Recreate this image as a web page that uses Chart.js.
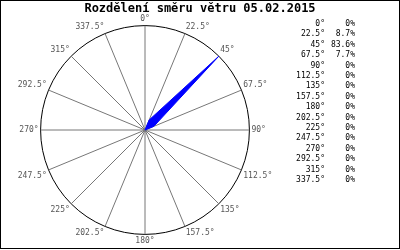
<!DOCTYPE html>
<html>
<head>
<meta charset="utf-8">
<script src="https://cdn.jsdelivr.net/npm/chart.js@4/dist/chart.umd.min.js"></script>
<style>
  body { margin: 0; background: #fff; }
</style>
</head>
<body>
<canvas id="roseChart" width="400" height="250"></canvas>
<script>
// wind directions and share of time (%)
const directions = ['0°', '22.5°', '45°', '67.5°', '90°', '112.5°', '135°', '157.5°',
                    '180°', '202.5°', '225°', '247.5°', '270°', '292.5°', '315°', '337.5°'];
const shares = [0, 8.7, 83.6, 7.7, 0, 0, 0, 0, 0, 0, 0, 0, 0, 0, 0, 0];
const chartTitle = 'Rozdělení směru větru 05.02.2015';

const MONO = '"DejaVu Sans Mono", monospace';

// title, side table and frame drawn straight on the canvas
const decorPlugin = {
    id: 'decor',
    afterDraw(chart) {
        const ctx = chart.ctx;
        ctx.save();
        ctx.fillStyle = '#000';
        ctx.font = 'bold 12px ' + MONO;
        ctx.textAlign = 'center';
        ctx.textBaseline = 'middle';
        ctx.fillText(chartTitle, 200, 9);

        ctx.font = '8px ' + MONO;
        ctx.textAlign = 'right';
        directions.forEach((d, i) => {
            const y = 24 + i * 10.4;
            ctx.fillText(d, 325, y);
            ctx.fillText(shares[i] + '%', 355, y);
        });

        ctx.strokeStyle = '#000';
        ctx.lineWidth = 1;
        ctx.strokeRect(0.5, 0.5, 399, 248);
        ctx.restore();
    }
};

const maxShare = Math.max(...shares);

new Chart(document.getElementById('roseChart'), {
    type: 'radar',
    data: {
        labels: directions,
        datasets: [{
            data: shares,
            borderColor: '#0000ff',
            backgroundColor: '#0000ff',
            borderWidth: 1,
            fill: true,
            pointRadius: 0
        }]
    },
    options: {
        responsive: false,
        animation: false,
        layout: {
            padding: { left: 11, right: 121, top: 14, bottom: 3 }
        },
        plugins: {
            legend: { display: false },
            title: { display: false },
            tooltip: { enabled: false }
        },
        scales: {
            r: {
                min: 0,
                max: maxShare,
                ticks: { display: false, stepSize: maxShare },
                grid: { circular: true, color: '#000', lineWidth: 1 },
                angleLines: { color: '#777', lineWidth: 1 },
                pointLabels: {
                    color: '#555',
                    padding: 2,
                    font: { family: MONO, size: 8 }
                }
            }
        }
    },
    plugins: [decorPlugin]
});
</script>
</body>
</html>
